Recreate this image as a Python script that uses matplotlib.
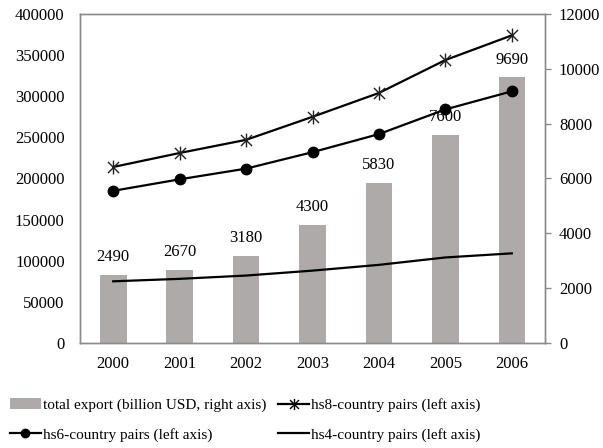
import matplotlib
matplotlib.use("Agg")
import matplotlib.pyplot as plt
from matplotlib.path import Path
from matplotlib.patches import Patch
from matplotlib.lines import Line2D

years = ["2000", "2001", "2002", "2003", "2004", "2005", "2006"]
total_export = [2490, 2670, 3180, 4300, 5830, 7600, 9690]
hs8_pairs = [214000, 231000, 247000, 275000, 304000, 344000, 374000]
hs6_pairs = [185000, 199000, 212000, 232000, 254000, 284000, 306000]
hs4_pairs = [75000, 78000, 82000, 88000, 95000, 104000, 109000]

plt.rcParams['font.family'] = ['Liberation Serif', 'DejaVu Serif']
plt.rcParams['font.size'] = 12

fig = plt.figure(figsize=(6.03, 4.48), dpi=100)
ax = fig.add_axes([80/603, 1-343/448, 465/603, 329/448])
ax2 = ax.twinx()

x = list(range(len(years)))
bar_color = '#aeaaa9'
spine_color = '#8c8c8c'

# bars on right axis
ax2.bar(x, total_export, width=0.4, color=bar_color, zorder=1)
for xi, v in zip(x, total_export):
    ax2.annotate(f"{v}", (xi, v), xytext=(0, 7), textcoords='offset points',
                 ha='center', va='bottom', fontsize=12)
ax2.set_ylim(0, 12000)
ax2.set_yticks(range(0, 12001, 2000))

# lines on left axis, drawn above bars
ax.set_zorder(ax2.get_zorder() + 1)
ax.patch.set_visible(False)

star = Path([(0, -1), (0, 1), (-0.8, -0.8), (0.8, 0.8), (-0.8, 0.8), (0.8, -0.8)],
            [Path.MOVETO, Path.LINETO, Path.MOVETO, Path.LINETO, Path.MOVETO, Path.LINETO])

ax.plot(x, hs8_pairs, color='black', lw=1.6, marker=star, markersize=10,
        markeredgewidth=1.0, markeredgecolor='#222222')
ax.plot(x, hs6_pairs, color='black', lw=1.6, marker='o', markersize=7.5)
ax.plot(x, hs4_pairs, color='black', lw=1.6)

ax.set_ylim(0, 400000)
ax.set_yticks(range(0, 400001, 50000))
ax.set_xlim(-0.5, 6.5)
ax.set_xticks(x)
ax.set_xticklabels(years)

ax.tick_params(axis='y', length=0, pad=11)
ax.tick_params(axis='x', length=0, pad=9)
ax2.tick_params(axis='y', length=4, width=1, color=spine_color, pad=6, direction='out')

for a in (ax, ax2):
    for s in a.spines.values():
        s.set_color(spine_color)
        s.set_linewidth(1.0)

handles = [
    Patch(facecolor=bar_color, edgecolor='none'),
    Line2D([], [], color='black', lw=1.6, marker='o', markersize=6),
    Line2D([], [], color='black', lw=1.6, marker=star, markersize=8, markeredgewidth=1.0),
    Line2D([], [], color='black', lw=1.6),
]
labels = [
    "total export (billion USD, right axis)",
    "hs6-country pairs (left axis)",
    "hs8-country pairs (left axis)",
    "hs4-country pairs (left axis)",
]
fig.legend(handles, labels, ncol=2, loc='center left',
           bbox_to_anchor=(10/603, 1-420/448), frameon=False, borderpad=0,
           handlelength=2.0, handletextpad=0.15, columnspacing=0.8,
           labelspacing=1.0, fontsize=11, borderaxespad=0)

fig.savefig("out.png", dpi=100)
